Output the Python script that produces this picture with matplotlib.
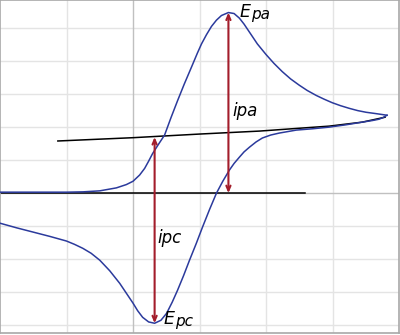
import numpy as np
import matplotlib.pyplot as plt

# anodic (forward) scan in grid units
fwd_x = [-2.0, -1.0, -0.75, -0.5, -0.25, -0.1, 0.0, 0.1, 0.175, 0.23, 0.295, 0.38, 0.475, 0.57,
         0.67, 0.77, 0.88, 0.97, 1.03, 1.105, 1.18, 1.255, 1.33, 1.435, 1.52, 1.6, 1.67, 1.75,
         1.87, 2.0, 2.12, 2.245, 2.37, 2.5, 2.62, 2.755, 2.87, 2.995, 3.12, 3.25, 3.38, 3.505,
         3.65, 3.82]
fwd_y = [0.03, 0.03, 0.04, 0.07, 0.16, 0.26, 0.36, 0.55, 0.75, 0.95, 1.2, 1.47, 1.76, 2.28,
         2.8, 3.3, 3.82, 4.25, 4.52, 4.8, 5.05, 5.24, 5.38, 5.47, 5.44, 5.3, 5.12, 4.88,
         4.52, 4.2, 3.93, 3.68, 3.46, 3.27, 3.11, 2.96, 2.85, 2.74, 2.65, 2.57, 2.5, 2.45,
         2.41, 2.36]

# cathodic (reverse) scan
rev_x = [3.82, 3.76, 3.70, 3.6, 3.445, 3.2, 2.95, 2.7, 2.455, 2.2, 2.07, 1.945, 1.85, 1.75,
         1.67, 1.6, 1.52, 1.45, 1.35, 1.255, 1.15, 1.045, 0.95, 0.85, 0.76, 0.67, 0.59, 0.505,
         0.42, 0.325, 0.235, 0.145, 0.07, 0.0, -0.1, -0.2, -0.35, -0.5, -0.63, -0.755, -0.88,
         -1.0, -1.25, -1.5, -1.75, -2.0]
rev_y = [2.36, 2.29, 2.24, 2.2, 2.15, 2.07, 2.0, 1.95, 1.91, 1.82, 1.76, 1.67, 1.55, 1.39,
         1.25, 1.09, 0.9, 0.70, 0.36, 0.0, -0.5, -1.03, -1.53, -2.03, -2.5, -2.94, -3.3, -3.64,
         -3.85, -3.94, -3.9, -3.76, -3.56, -3.33, -3.03, -2.73, -2.35, -2.03, -1.82, -1.67, -1.55,
         -1.45, -1.31, -1.18, -1.05, -0.91]

# extrapolated baselines
base_x = [-2.0, 2.59]
base_y = [0.0, 0.0]
tail_x = [-1.13, 0.0, 1.0, 1.9, 2.95, 3.445, 3.79]
tail_y = [1.58, 1.68, 1.79, 1.88, 2.03, 2.15, 2.30]

# peaks
Epa, ipa_top, ipa_bot = 1.435, 5.47, 0.0
Epc, ipc_top, ipc_bot = 0.325, 1.70, -3.94

blue = '#2b3a9c'
red = '#a31d2b'

fig = plt.figure(figsize=(4, 3.35), dpi=100)
ax = fig.add_axes([0.0, 0.0045, 0.9975, 0.9955])
ax.set_xlim(-2, 4)
ax.set_ylim(-4.25, 5.85)

for v in [-1, 1, 2, 3]:
    ax.axvline(v, color='#e4e4e4', lw=1, zorder=0)
for h in [-4, -3, -2, -1, 1, 2, 3, 4, 5]:
    ax.axhline(h, color='#e4e4e4', lw=1, zorder=0)
ax.axvline(0, color='#c0c0c0', lw=1, zorder=0)
ax.axhline(0, color='#c0c0c0', lw=1, zorder=0)

for s in ax.spines.values():
    s.set_color('#a8a8a8')
    s.set_linewidth(1.2)
ax.set_xticks([])
ax.set_yticks([])

ax.plot(base_x, base_y, color='black', lw=1.1, zorder=2)
ax.plot(tail_x, tail_y, color='black', lw=1.1, zorder=2)
ax.plot(fwd_x, fwd_y, color=blue, lw=1.1, zorder=3)
ax.plot(rev_x, rev_y, color=blue, lw=1.1, zorder=3)

arr = dict(arrowstyle='<->,head_length=0.35,head_width=0.15', color=red, lw=1.5,
           shrinkA=0, shrinkB=0)
ax.annotate('', xy=(Epa, ipa_top), xytext=(Epa, ipa_bot), arrowprops=arr, zorder=4)
ax.annotate('', xy=(Epc, ipc_bot), xytext=(Epc, ipc_top), arrowprops=arr, zorder=4)

txt = dict(style='italic', color='black', va='baseline', ha='left')
ax.text(1.6, 5.33, 'E', fontsize=12.5, **txt)
ax.text(1.77, 5.28, 'pa', fontsize=11, **txt)
ax.text(0.46, -3.97, 'E', fontsize=12.5, **txt)
ax.text(0.63, -4.03, 'pc', fontsize=11, **txt)
ax.text(1.5, 2.33, 'ipa', fontsize=12, **txt)
ax.text(0.36, -1.52, 'ipc', fontsize=12, **txt)

fig.savefig('out.png', dpi=100)
